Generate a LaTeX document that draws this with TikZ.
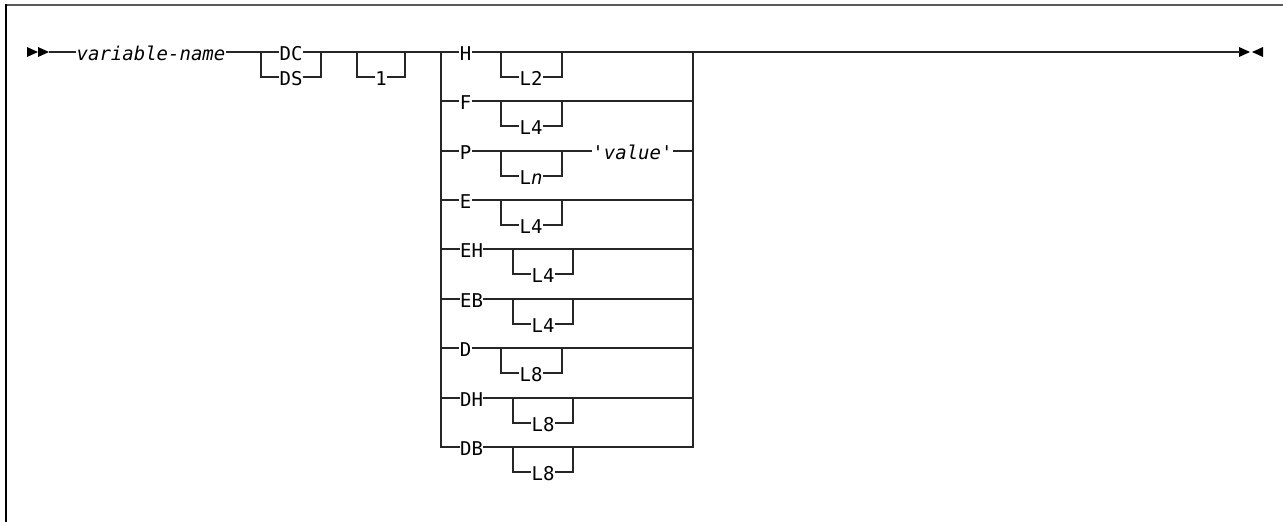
\documentclass[tikz,border=0pt]{standalone}
\usepackage{fontspec}
\setmonofont{DejaVu Sans Mono}
\begin{document}
\begin{tikzpicture}[x=1pt,y=-1pt,
  rail/.style={line width=1.5pt, draw=black!85, line join=miter},
  lbl/.style={font=\ttfamily\fontsize{19}{19}\selectfont, anchor=base, fill=white, inner xsep=0.4pt, inner ysep=0pt, text=black},
  tipfill/.style={fill=black}]
\useasboundingbox (0,0) rectangle (1283,522);
\fill[white] (0,0) rectangle (1283,522);
% frame
\coordinate (ftl) at (5,5);
\coordinate (ftr) at (1283,5);
\coordinate (fbl) at (6,522);
\draw[line width=1.8pt, draw=black!65] (ftl) -- (ftr);
\draw[line width=1.8pt, draw=black] (6,4.1) -- (fbl);
% start and end tips
\fill[tipfill] (27,47) -- (38,52) -- (27,57) -- cycle;
\fill[tipfill] (38,47) -- (49,52) -- (38,57) -- cycle;
\fill[tipfill] (1239,47) -- (1250,52) -- (1239,57) -- cycle;
\fill[tipfill] (1263,47) -- (1252,52) -- (1263,57) -- cycle;
\coordinate (start) at (49,52);
\coordinate (stop) at (1240,52);
% junction coordinates
\coordinate (gl) at (441,52);
\coordinate (gr) at (693,52);
% main line
\draw[rail] (start) -- (stop);
% DC / DS choice
\draw[rail] (261,52) -- (261,77) -- (321,77) -- (321,52);
% optional 1
\draw[rail] (357,52) -- (357,77) -- (405,77) -- (405,52);
% group of types: outer verticals and bottom row
\draw[rail] (gl) -- (441,447) -- (693,447) -- (gr);
\foreach \y in {101,151,200,249,299,348,398}
  \draw[rail] (441,\y) -- (693,\y);
% optional length brackets
\foreach \y/\a/\b in {52/501/562,101/501/562,151/501/562,200/501/562,
                      249/513/573,299/513/573,348/501/562,398/513/573,447/513/573}
  \draw[rail] (\a,\y) -- (\a,\y+25) -- (\b,\y+25) -- (\b,\y);
% labels
\node[lbl] (vn) at (151,60.5) {\itshape variable-name};
\node[lbl] (dc) at (291,60.5) {DC};
\node[lbl] (ds) at (291,85.5) {DS};
\node[lbl] (one) at (381,85.5) {1};
\foreach \n/\y/\t/\c/\lc/\lt in {
   h/52/H/465.5/531/L2,
   f/101/F/465.5/531/L4,
   p/151/P/465.5/531/L\textit{n},
   e/200/E/465.5/531/L4,
   eh/249/EH/471.5/543/L4,
   eb/299/EB/471.5/543/L4,
   d/348/D/465.5/531/L8,
   dh/398/DH/471.5/543/L8,
   db/447/DB/471.5/543/L8}
{
  \node[lbl] (\n) at (\c,\y+8.5) {\t};
  \node[lbl] (\n l) at (\lc,\y+33.5) {\lt};
}
\node[lbl] (val) at (632.5,159.5) {'\textit{value}'};
\end{tikzpicture}
\end{document}
